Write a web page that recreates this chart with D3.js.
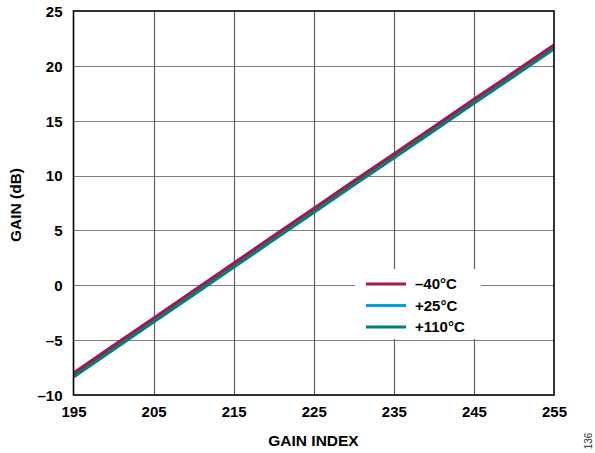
<!DOCTYPE html>
<html><head><meta charset="utf-8">
<script src="https://cdn.jsdelivr.net/npm/d3@7"></script>
<style>body{margin:0;background:#fff;}svg{display:block;}</style>
</head><body>
<svg id="c" width="595" height="453"></svg>
<script>
const gainIndex = [195,200,205,210,215,220,225,230,235,240,245,250,255];
const gainM40 = [-8.0,-5.5,-3.0,-0.5,2.0,4.5,7.0,9.5,11.95,14.45,16.95,19.4,21.9];
const gainP25 = [-8.2,-5.7,-3.2,-0.7,1.8,4.3,6.8,9.3,11.75,14.25,16.75,19.2,21.7];
const gainP110 = [-8.35,-5.85,-3.35,-0.85,1.65,4.15,6.65,9.15,11.6,14.1,16.6,19.05,21.55];
const xTicks = [195,205,215,225,235,245,255];
const yTicks = [-10,-5,0,5,10,15,20,25];
const seriesNames = ["\u201340\u00B0C","+25\u00B0C","+110\u00B0C"];
const seriesColors = ["#A11A4B","#00A0DC","#00807C"];

const svg = d3.select("#c");
const L=73.5,R=554,T=11,B=395;
const x = d3.scaleLinear().domain([195,255]).range([L,R]);
const y = d3.scaleLinear().domain([-10,25]).range([B,T]);
const font = "'Liberation Sans', Arial, sans-serif";

// grid
svg.append("g").selectAll("line").data(yTicks.slice(1,-1)).join("line")
  .attr("x1",L).attr("x2",R).attr("y1",d=>Math.round(y(d))+0.5).attr("y2",d=>Math.round(y(d))+0.5)
  .attr("stroke","#808080").attr("stroke-width",1.2);
svg.append("g").selectAll("line").data(xTicks.slice(1,-1)).join("line")
  .attr("y1",T).attr("y2",B).attr("x1",d=>Math.round(x(d))+0.5).attr("x2",d=>Math.round(x(d))+0.5)
  .attr("stroke","#606060").attr("stroke-width",1.2);

// lines
const series = [
  {name:seriesNames[0],vals:gainM40,color:seriesColors[0]},
  {name:seriesNames[1],vals:gainP25,color:seriesColors[1]},
  {name:seriesNames[2],vals:gainP110,color:seriesColors[2]}
];
const line = d3.line().x((d,i)=>x(gainIndex[i])).y(d=>y(d));
const clip = svg.append("clipPath").attr("id","pc").append("rect").attr("x",L).attr("y",T).attr("width",R-L).attr("height",B-T);
const drawOrder = [1,2,0];
svg.append("g").attr("clip-path","url(#pc)").selectAll("path").data(drawOrder.map(i=>series[i])).join("path")
  .attr("d",d=>line(d.vals)).attr("fill","none").attr("stroke",d=>d.color).attr("stroke-width",3.2);

// frame
svg.append("rect").attr("x",L).attr("y",T).attr("width",R-L).attr("height",B-T)
  .attr("fill","none").attr("stroke","#000").attr("stroke-width",1.6);

// axes labels
const xAxis = d3.axisBottom(x).tickValues(xTicks).tickSize(0).tickPadding(0).tickFormat(d3.format("d"));
const gx = svg.append("g").attr("transform",`translate(0,${B})`).call(xAxis);
gx.select(".domain").remove();
gx.selectAll("text").attr("dy",null).attr("y",22).attr("font-family",font).attr("font-weight","bold").attr("font-size",15).attr("fill","#000");

const yAxis = d3.axisLeft(y).tickValues(yTicks).tickSize(0).tickPadding(0).tickFormat(d=>d<0?"\u2013"+Math.abs(d):String(d));
const gy = svg.append("g").attr("transform",`translate(${L},0)`).call(yAxis);
gy.select(".domain").remove();
gy.selectAll("text").attr("x",-11).attr("dy","0.36em").attr("font-family",font).attr("font-weight","bold").attr("font-size",15).attr("fill","#000");

svg.append("text").attr("x",313.5).attr("y",446).attr("text-anchor","middle")
  .attr("font-family",font).attr("font-weight","bold").attr("font-size",15.5).text("GAIN INDEX");
svg.append("text").attr("transform","translate(21,205) rotate(-90)").attr("text-anchor","middle")
  .attr("font-family",font).attr("font-weight","bold").attr("font-size",15.5).text("GAIN (dB)");
svg.append("text").attr("transform","translate(592,441) rotate(-90)").attr("text-anchor","middle")
  .attr("font-family",font).attr("font-size",10).attr("fill","#333").text("136");

// legend
const lg = svg.append("g");
lg.append("rect").attr("x",355).attr("y",269).attr("width",126).attr("height",70).attr("fill","#fff");
const rows = lg.selectAll("g").data(series).join("g").attr("transform",(d,i)=>`translate(0,${[284,305.5,327][i]})`);
rows.append("line").attr("x1",366).attr("x2",406).attr("y1",0).attr("y2",0).attr("stroke",d=>d.color).attr("stroke-width",3.2);
rows.append("text").attr("x",415).attr("dy","0.36em").attr("font-family",font).attr("font-weight","bold").attr("font-size",15).text(d=>d.name);
</script>
</body></html>
